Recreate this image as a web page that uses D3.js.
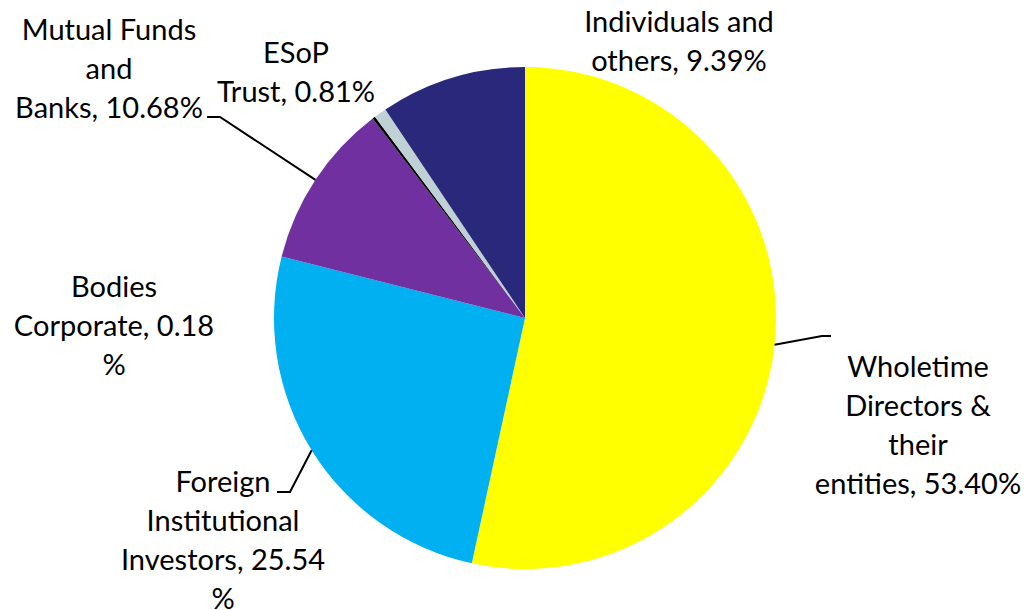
<!DOCTYPE html>
<html>
<head>
<meta charset="utf-8">
<script src="https://cdn.jsdelivr.net/npm/d3@7/dist/d3.min.js"></script>
<style>
  html, body { margin: 0; padding: 0; background: #ffffff; }
  svg { display: block; }
  text { font-family: Lato, "Open Sans", sans-serif; fill: #000; }
</style>
</head>
<body>
<svg id="chart" width="1026" height="610"></svg>
<script>
// Shareholding pattern
const categories = [
  "Wholetime Directors & their entities",
  "Foreign Institutional Investors",
  "Mutual Funds and Banks",
  "Bodies Corporate",
  "ESoP Trust",
  "Individuals and others"
];
const shares = [53.40, 25.54, 10.68, 0.18, 0.81, 9.39];
const colors = ["#FFFF00", "#00B0F0", "#7030A0", "#000000", "#BFD1D5", "#29287A"];

// Label placement: centre x, first baseline, characters per wrapped line,
// and optional leader line (elbow + end) drawn from the slice's outer edge.
const labelLayout = [
  { x: 918, y: 377, lines: [9, 11, 5, 16], leader: [[822, 336], [831, 336]] },
  { x: 223, y: 492, lines: [7, 13, 16, 1], leader: [[290, 492], [277, 492]] },
  { x: 109, y: 40,  lines: [12, 3, 13],    leader: [[220, 117], [207, 117]] },
  { x: 114, y: 297, lines: [6, 15, 1] },
  { x: 296, y: 63,  lines: [4, 12] },
  { x: 679, y: 32,  lines: [15, 13] }
];

const cx = 525, cy = 318, radius = 251;
const lineGap = 39;

const svg = d3.select("#chart");
const g = svg.append("g").attr("transform", `translate(${cx},${cy})`);

const data = categories.map((c, i) => ({ name: c, value: shares[i], color: colors[i], layout: labelLayout[i] }));

const pie = d3.pie().sort(null).value(d => d.value);
const arc = d3.arc().innerRadius(0).outerRadius(radius);
const arcs = pie(data);

g.selectAll("path.slice")
  .data(arcs)
  .join("path")
  .attr("class", "slice")
  .attr("d", arc)
  .attr("fill", d => d.data.color);

function wrap(text, counts) {
  const out = [];
  let rest = text;
  counts.forEach(n => {
    out.push(rest.slice(0, n));
    rest = rest.slice(n).replace(/^\s+/, "");
  });
  if (rest.length) out.push(rest);
  return out;
}

// Leader lines
arcs.forEach(a => {
  const lay = a.data.layout;
  if (!lay.leader) return;
  const mid = (a.startAngle + a.endAngle) / 2;
  const sx = cx + radius * Math.sin(mid);
  const sy = cy - radius * Math.cos(mid);
  const pts = [[sx, sy]].concat(lay.leader);
  svg.append("path")
    .attr("d", d3.line()(pts))
    .attr("fill", "none")
    .attr("stroke", "#000")
    .attr("stroke-width", 2);
});

// Data labels
arcs.forEach(a => {
  const lay = a.data.layout;
  const full = `${a.data.name}, ${a.data.value.toFixed(2)}%`;
  const lines = wrap(full, lay.lines);
  const t = svg.append("text")
    .attr("text-anchor", "middle")
    .attr("font-size", 29);
  lines.forEach((ln, i) => {
    t.append("tspan")
      .attr("x", lay.x)
      .attr("y", lay.y + i * lineGap)
      .text(ln);
  });
});
</script>
</body>
</html>
